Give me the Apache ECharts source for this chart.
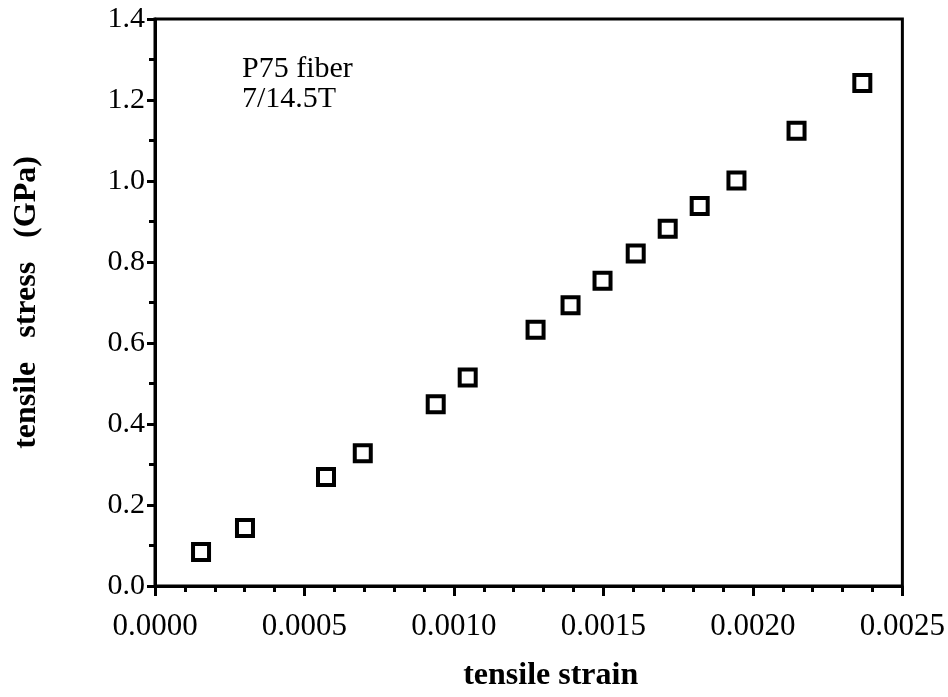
<!DOCTYPE html>
<html><head><meta charset="utf-8">
<script src="https://cdn.jsdelivr.net/npm/echarts@6/dist/echarts.min.js"></script>
<style>html,body{margin:0;padding:0;background:#fff}#c{width:948px;height:697px}</style>
</head><body><div id="c"></div>
<script>
const strain = [0.000154,0.000301,0.000572,0.000695,0.000939,0.001046,0.001273,0.001390,0.001497,0.001608,0.001715,0.001822,0.001945,0.002146,0.002366];
const stress = [0.084,0.143,0.269,0.328,0.449,0.515,0.633,0.693,0.754,0.821,0.882,0.938,1.001,1.124,1.242];
const xTitle = 'tensile strain';
const yTitle = 'tensile   stress   (GPa)';
const noteLines = ['P75 fiber', '7/14.5T'];

const font = 'Liberation Serif';
const chart = echarts.init(document.getElementById('c'));
chart.setOption({
  animation: false,
  backgroundColor: '#fff',
  grid: {left: 155, right: 45, top: 19, bottom: 110, show: true, borderColor: '#000', borderWidth: 3, containLabel: false},
  xAxis: {
    type: 'value', min: 0, max: 0.0025, interval: 0.0005,
    name: xTitle, nameLocation: 'middle', nameGap: 74,
    nameTextStyle: {fontFamily: font, fontSize: 32, fontWeight: 'bold', color: '#000', padding: [0, 0, 0, 44]},
    axisLine: {show: true, lineStyle: {color: '#000', width: 3}},
    axisTick: {show: true, inside: false, length: 10, lineStyle: {color: '#000', width: 3}},
    minorTick: {show: true, splitNumber: 5, length: 6, lineStyle: {color: '#000', width: 3}},
    splitLine: {show: false},
    axisLabel: {fontFamily: font, fontSize: 31, color: '#000', margin: 25, formatter: v => v.toFixed(4)}
  },
  yAxis: {
    type: 'value', min: 0, max: 1.4, interval: 0.2,
    name: yTitle, nameLocation: 'middle', nameGap: 112, nameRotate: 90,
    nameTextStyle: {fontFamily: font, fontSize: 32, fontWeight: 'bold', color: '#000'},
    axisLine: {show: true, lineStyle: {color: '#000', width: 3}},
    axisTick: {show: true, inside: false, length: 8, lineStyle: {color: '#000', width: 3}},
    minorTick: {show: true, splitNumber: 2, length: 6, lineStyle: {color: '#000', width: 3}},
    splitLine: {show: false},
    axisLabel: {fontFamily: font, fontSize: 30, color: '#000', margin: 10, formatter: v => v.toFixed(1)}
  },
  graphic: [{
    type: 'text', left: 242, top: 54,
    style: {text: noteLines.join('\n'), fontFamily: font, fontSize: 30, lineHeight: 30, fill: '#000'}
  }],
  series: [{
    type: 'scatter',
    data: strain.map((x, i) => [x, stress[i]]),
    symbol: 'rect', symbolSize: 16,
    itemStyle: {color: '#fff', borderColor: '#000', borderWidth: 4, opacity: 1}
  }]
});
</script></body></html>
